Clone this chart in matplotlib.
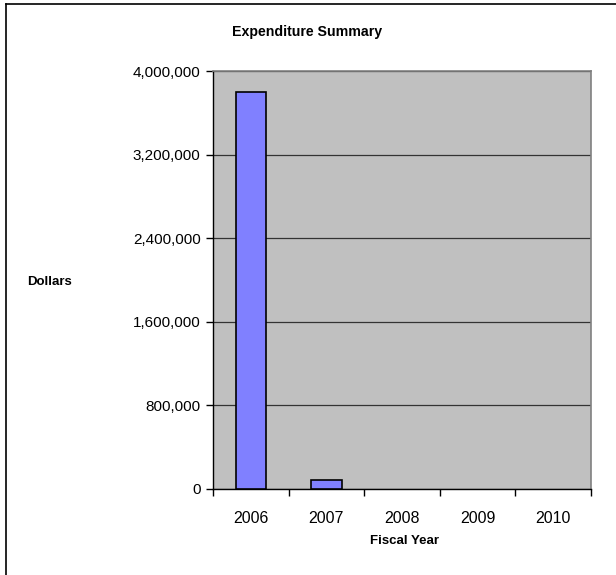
import matplotlib
matplotlib.use("Agg")
import matplotlib.pyplot as plt
from matplotlib.lines import Line2D
from matplotlib.ticker import FuncFormatter, FixedLocator
import numpy as np

# expenditure per fiscal year
years = ["2006", "2007", "2008", "2009", "2010"]
dollars = [3800000, 86000, 0, 0, 0]
y_ticks = [0, 800000, 1600000, 2400000, 3200000, 4000000]

plt.rcParams["font.family"] = ["Liberation Sans", "DejaVu Sans"]

fig = plt.figure(figsize=(6.16, 5.75), dpi=100)
ax = fig.add_axes([213 / 616, 86 / 575, 378 / 616, 418 / 575])
ax.set_facecolor("#c0c0c0")

x = np.arange(len(years))
# empty years get no outline
edge_w = [1.2 if v > 0 else 0 for v in dollars]
ax.bar(x, dollars, width=0.4, color="#8080ff", edgecolor="black", linewidth=edge_w, zorder=3)

ax.set_xlim(-0.5, len(years) - 0.5)
ax.set_ylim(0, 4000000)
ax.set_yticks(y_ticks)
ax.yaxis.set_major_formatter(FuncFormatter(lambda v, p: f"{int(v):,}"))
ax.grid(axis="y", color="#333333", linewidth=0.9, zorder=1)
ax.set_axisbelow(True)

# category labels centred, tick marks on the category boundaries
ax.set_xticks(x)
ax.set_xticklabels(years)
ax.xaxis.set_minor_locator(FixedLocator(np.arange(-0.5, len(years), 1.0)))
ax.tick_params(axis="x", which="major", length=0, pad=16, labelsize=11.5)
ax.tick_params(axis="x", which="minor", length=5, width=1, color="black", direction="out")
ax.tick_params(axis="y", length=5, width=1, labelsize=11, pad=4)

for side in ["top", "right"]:
    ax.spines[side].set_color("#808080")
    ax.spines[side].set_linewidth(1.2)
for side in ["left", "bottom"]:
    ax.spines[side].set_color("black")
    ax.spines[side].set_linewidth(1.0)

fig.text(307 / 616, 1 - 32 / 575, "Expenditure Summary", ha="center", va="center",
         fontsize=10.2, fontweight="bold")
fig.text(50 / 616, 1 - 282 / 575, "Dollars", ha="center", va="center",
         fontsize=9.5, fontweight="bold")
fig.text(404 / 616, 1 - 541 / 575, "Fiscal Year", ha="center", va="center",
         fontsize=9.5, fontweight="bold")

# chart frame
fig.add_artist(Line2D([6 / 616, 6 / 616], [0, 1 - 4 / 575], color="black", linewidth=1.2))
fig.add_artist(Line2D([6 / 616, 1], [1 - 4 / 575, 1 - 4 / 575], color="black", linewidth=1.2))

fig.savefig("out.png", dpi=100)
